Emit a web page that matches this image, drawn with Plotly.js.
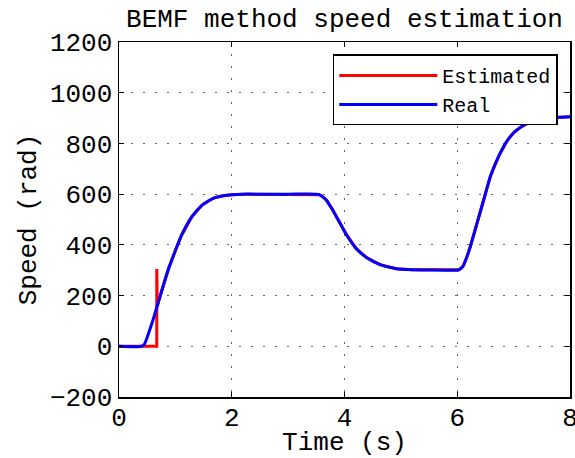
<!DOCTYPE html>
<html>
<head>
<meta charset="utf-8">
<script src="https://cdn.plot.ly/plotly-3.0.1.min.js"></script>
<style>html,body{margin:0;padding:0;background:#fff;}#chart{width:575px;height:458px;}</style>
</head>
<body>
<div id="chart"></div>
<script>
const realTime = [0, 0.40, 0.45, 0.50, 0.55, 0.60, 0.65, 0.70, 0.76, 0.87, 0.99, 1.11, 1.29, 1.47, 1.60, 1.70, 1.85, 2.0, 2.2, 2.5, 3.0, 3.5, 3.55, 3.60, 3.68, 3.77, 3.86, 4.04, 4.21, 4.39, 4.63, 4.92, 5.2, 5.5, 6.0, 6.03, 6.07, 6.11, 6.17, 6.23, 6.35, 6.47, 6.59, 6.74, 6.89, 7.0, 7.13, 7.3, 7.43, 7.6, 7.8, 8.0];
const realSpeed = [0, 0, 8, 35, 68, 102, 138, 175, 221, 300, 372, 438, 510, 556, 575, 586, 594, 598, 600, 600, 600, 600, 598, 592, 576, 545, 510, 438, 385, 350, 322, 306, 302, 301, 300, 302, 308, 319, 352, 392, 485, 578, 672, 752, 812, 842, 865, 885, 895, 900, 903, 905];

const estTime = [0, 0.40, 0.67, 0.67, 0.68, 0.70, 0.76, 0.87, 0.99, 1.11, 1.29, 1.47, 1.60, 1.70, 1.85, 2.0, 2.2, 2.5, 3.0, 3.5, 3.55, 3.60, 3.68, 3.77, 3.86, 4.04, 4.21, 4.39, 4.63, 4.92, 5.2, 5.5, 6.0, 6.03, 6.07, 6.11, 6.17, 6.23, 6.35, 6.47, 6.59, 6.74, 6.89, 7.0, 7.13, 7.3, 7.43, 7.6, 7.8, 8.0];
const estSpeed = [0, 0, 0, 305, 160, 175, 221, 300, 372, 438, 510, 556, 575, 586, 594, 598, 600, 600, 600, 600, 598, 592, 576, 545, 510, 438, 385, 350, 322, 306, 302, 301, 300, 302, 308, 319, 352, 392, 485, 578, 672, 752, 812, 842, 865, 885, 895, 900, 903, 905];

const xTicks = [0, 2, 4, 6, 8];
const yTicks = [-200, 0, 200, 400, 600, 800, 1000, 1200];

const mono = "Liberation Mono, Courier New, monospace";
const fs = 26;

const traces = [
  {x: estTime, y: estSpeed, name: "Estimated", mode: "lines", line: {color: "#ff0000", width: 3}},
  {x: realTime, y: realSpeed, name: "Real", mode: "lines", line: {color: "#0000ff", width: 3, shape: "spline", smoothing: 0.6}}
];

const axisCommon = {
  showline: true, mirror: "ticks", linecolor: "#000", linewidth: 1.5,
  ticks: "inside", ticklen: 5, tickcolor: "#000", tickwidth: 1,
  showgrid: true, gridcolor: "#666", gridwidth: 1, griddash: "2px,10px",
  zeroline: false, tickfont: {family: mono, size: fs, color: "#000"}
};

const layout = {
  width: 575, height: 458,
  margin: {l: 119, r: 5, t: 42, b: 61},
  paper_bgcolor: "#fff", plot_bgcolor: "#fff",
  font: {family: mono, color: "#000"},
  title: {text: "BEMF method speed estimation", font: {family: mono, size: fs, color: "#000"}, x: 0.5, xref: "paper", xanchor: "center", y: 0.961, yref: "container", yanchor: "middle"},
  xaxis: Object.assign({}, axisCommon, {
    range: [0, 8], tickvals: xTicks, ticktext: xTicks.map(String), ticklabeloverflow: "allow",
    ticklabelstandoff: -4,
    title: {text: "Time (s)", font: {family: mono, size: fs, color: "#000"}, standoff: 6}
  }),
  yaxis: Object.assign({}, axisCommon, {
    range: [-200, 1200], tickvals: yTicks, ticktext: yTicks.map(v => v < 0 ? "\u2212" + Math.abs(v) : String(v)),
    title: {text: "Speed (rad)", font: {family: mono, size: fs, color: "#000"}, standoff: 6}
  }),
  legend: {
    x: 0.973, xanchor: "right", y: 0.965, yanchor: "top",
    bgcolor: "#fff", bordercolor: "#000", borderwidth: 1.5,
    font: {family: mono, size: 20, color: "#000"},
    itemwidth: 98, tracegroupgap: 0
  },
  showlegend: true
};

Plotly.newPlot("chart", traces, layout, {displayModeBar: false, staticPlot: true});
</script>
</body>
</html>
